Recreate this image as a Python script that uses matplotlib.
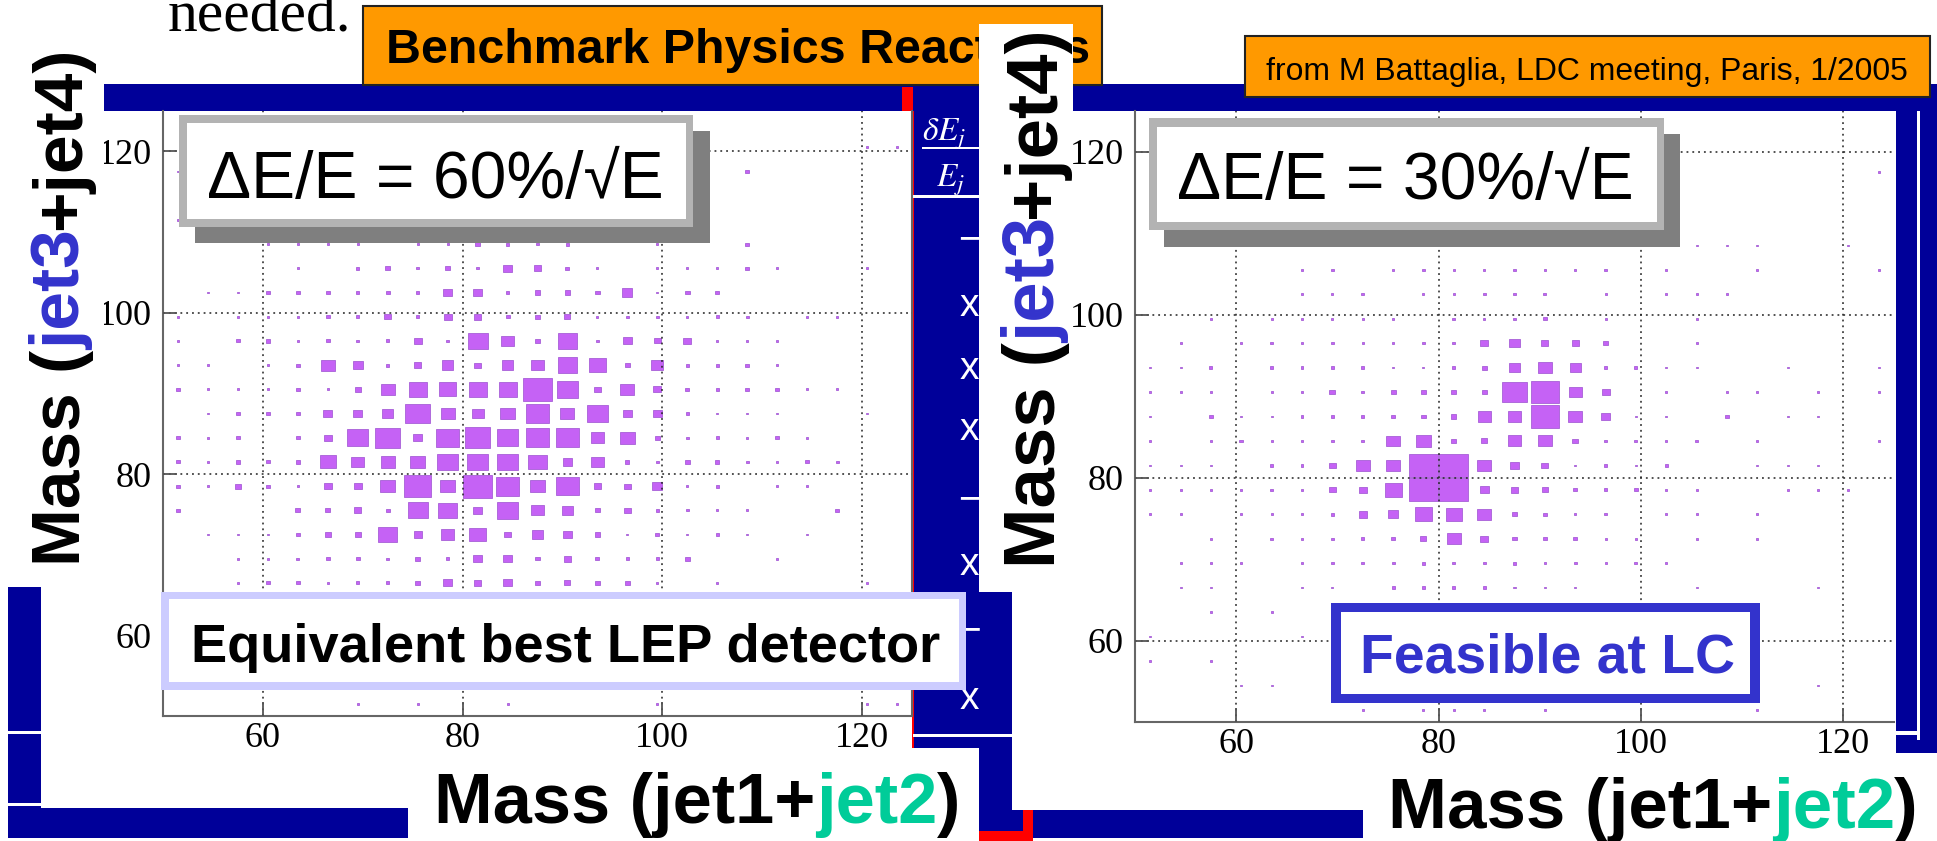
import numpy as np
import matplotlib
matplotlib.use('Agg')
import matplotlib.pyplot as plt
from matplotlib.patches import Rectangle
from matplotlib.collections import PatchCollection
from matplotlib.transforms import Affine2D

# Data

# 2D histograms, 3 GeV bins from 50 to 125 on both axes.
# each row = one Mass(jet3+jet4) bin (from 51.5 up to 123.5), columns = Mass(jet1+jet2) bins
bin_lo = 50
bin_w = 3
cmax = 200

lep_counts = [
    [0, 0, 0, 0, 0, 0, 1, 0, 1, 0, 0, 1, 0, 0, 0, 0, 1, 0, 0, 0, 0, 0, 0, 1, 1],
    [0, 0, 0, 0, 0, 0, 0, 0, 0, 0, 0, 0, 0, 0, 0, 0, 0, 0, 0, 0, 0, 0, 0, 0, 0],
    [0, 0, 0, 0, 0, 0, 0, 0, 0, 0, 0, 0, 0, 0, 0, 0, 0, 0, 0, 0, 0, 0, 0, 0, 0],
    [0, 0, 0, 0, 0, 0, 0, 0, 0, 0, 0, 0, 0, 0, 0, 0, 0, 0, 0, 0, 0, 0, 0, 0, 0],
    [0, 0, 0, 0, 0, 0, 0, 0, 0, 0, 0, 0, 0, 0, 0, 0, 0, 0, 0, 0, 0, 0, 0, 0, 0],
    [0, 0, 1, 3, 3, 1, 3, 3, 7, 19, 11, 19, 4, 9, 7, 7, 1, 0, 1, 0, 0, 0, 0, 1, 0],
    [0, 0, 1, 1, 2, 3, 4, 2, 6, 3, 17, 19, 4, 14, 4, 3, 3, 5, 0, 0, 1, 0, 0, 0, 0],
    [0, 1, 1, 1, 5, 9, 9, 85, 16, 45, 72, 10, 26, 20, 7, 1, 4, 1, 3, 1, 0, 1, 0, 0, 0],
    [3, 0, 0, 0, 6, 6, 12, 4, 100, 83, 20, 110, 38, 30, 6, 10, 3, 2, 1, 1, 0, 0, 3, 0, 0],
    [3, 2, 10, 3, 1, 14, 14, 52, 185, 60, 200, 138, 60, 128, 14, 10, 25, 1, 3, 0, 1, 1, 0, 0, 0],
    [3, 1, 5, 3, 5, 63, 42, 48, 55, 104, 104, 104, 80, 24, 40, 4, 2, 7, 4, 2, 1, 3, 2, 0, 0],
    [3, 1, 3, 0, 4, 15, 110, 148, 20, 125, 158, 115, 133, 133, 42, 55, 5, 2, 3, 1, 3, 1, 0, 0, 0],
    [0, 1, 3, 3, 3, 20, 20, 33, 148, 49, 35, 49, 125, 48, 105, 20, 20, 3, 1, 1, 1, 0, 0, 1, 0],
    [3, 1, 1, 1, 3, 1, 8, 50, 80, 77, 80, 80, 195, 103, 10, 47, 15, 4, 3, 3, 3, 1, 1, 0, 0],
    [1, 1, 0, 1, 3, 45, 24, 3, 12, 33, 10, 33, 42, 90, 72, 5, 35, 3, 3, 3, 1, 0, 0, 0, 0],
    [1, 0, 3, 4, 1, 3, 2, 3, 17, 2, 100, 40, 6, 88, 2, 19, 10, 15, 1, 1, 1, 0, 0, 0, 0],
    [1, 0, 1, 1, 1, 3, 3, 11, 3, 15, 15, 4, 5, 9, 1, 2, 2, 1, 3, 2, 0, 1, 1, 0, 0],
    [0, 1, 1, 3, 3, 3, 3, 4, 3, 21, 21, 2, 8, 8, 5, 25, 1, 5, 4, 0, 0, 0, 0, 0, 0],
    [0, 0, 0, 0, 1, 0, 3, 6, 2, 6, 2, 21, 12, 4, 1, 0, 1, 1, 1, 4, 1, 0, 0, 1, 0],
    [0, 0, 0, 1, 1, 1, 1, 0, 1, 1, 5, 3, 2, 3, 0, 0, 1, 0, 0, 3, 0, 0, 0, 0, 0],
    [1, 0, 0, 0, 0, 0, 0, 0, 0, 0, 0, 0, 0, 0, 0, 0, 0, 0, 0, 0, 0, 0, 0, 0, 0],
    [0, 0, 0, 0, 0, 0, 0, 0, 0, 0, 0, 0, 0, 0, 0, 0, 0, 0, 0, 0, 0, 0, 0, 0, 0],
    [1, 0, 0, 0, 0, 0, 0, 0, 0, 0, 0, 0, 0, 0, 0, 0, 0, 0, 0, 3, 0, 0, 0, 0, 0],
    [0, 0, 0, 0, 0, 0, 0, 0, 0, 0, 0, 0, 0, 0, 0, 0, 0, 0, 0, 0, 0, 0, 0, 1, 2],
    [0, 0, 0, 0, 0, 0, 0, 0, 0, 0, 0, 0, 0, 0, 0, 0, 0, 0, 0, 0, 0, 0, 0, 0, 0],
]

lc_counts = [
    [0, 0, 0, 0, 0, 0, 0, 1, 0, 1, 1, 1, 0, 1, 0, 0, 0, 0, 0, 0, 1, 0, 0, 0, 0],
    [0, 0, 0, 1, 1, 0, 0, 0, 0, 0, 0, 0, 0, 0, 0, 0, 0, 0, 0, 0, 0, 0, 1, 0, 0],
    [1, 0, 1, 0, 0, 0, 0, 0, 0, 0, 0, 0, 0, 0, 0, 0, 0, 0, 0, 0, 0, 0, 0, 0, 0],
    [1, 0, 0, 0, 0, 1, 0, 0, 0, 0, 0, 0, 0, 0, 0, 0, 0, 0, 0, 0, 0, 0, 0, 0, 0],
    [0, 0, 1, 0, 1, 0, 0, 0, 0, 0, 0, 0, 0, 0, 0, 0, 0, 0, 0, 0, 0, 0, 0, 0, 0],
    [0, 1, 1, 0, 0, 1, 1, 0, 2, 2, 2, 2, 1, 1, 1, 0, 0, 0, 1, 0, 0, 0, 1, 0, 0],
    [0, 1, 1, 1, 0, 1, 2, 2, 2, 3, 2, 2, 3, 1, 2, 1, 2, 1, 0, 0, 0, 0, 0, 0, 0],
    [0, 0, 1, 0, 2, 1, 2, 3, 3, 9, 48, 14, 4, 3, 3, 1, 1, 0, 1, 0, 1, 0, 0, 0, 0],
    [1, 1, 0, 1, 1, 2, 3, 16, 23, 70, 60, 48, 7, 3, 1, 2, 0, 1, 1, 0, 1, 0, 0, 0, 0],
    [1, 1, 1, 1, 2, 2, 10, 16, 70, 200, 200, 19, 14, 10, 3, 3, 3, 1, 1, 0, 0, 1, 1, 1, 0],
    [1, 1, 1, 0, 2, 2, 10, 46, 50, 200, 200, 44, 20, 11, 1, 3, 1, 2, 0, 0, 1, 1, 1, 0, 0],
    [1, 0, 1, 3, 1, 2, 2, 2, 42, 58, 6, 9, 44, 45, 8, 2, 2, 1, 2, 0, 1, 0, 0, 0, 1],
    [1, 0, 3, 1, 1, 2, 3, 3, 3, 5, 6, 41, 39, 185, 45, 19, 1, 1, 0, 3, 0, 1, 1, 0, 0],
    [1, 1, 1, 0, 1, 1, 8, 3, 6, 7, 6, 6, 140, 185, 39, 15, 0, 1, 0, 1, 1, 0, 1, 0, 1],
    [1, 1, 2, 0, 2, 2, 2, 2, 1, 1, 2, 6, 28, 45, 28, 2, 2, 1, 1, 0, 0, 1, 0, 0, 1],
    [0, 1, 0, 1, 2, 2, 2, 1, 1, 2, 2, 16, 27, 11, 11, 6, 0, 0, 1, 0, 0, 0, 0, 0, 0],
    [0, 0, 1, 0, 1, 1, 1, 1, 1, 0, 2, 1, 1, 3, 0, 1, 0, 0, 1, 0, 0, 0, 0, 0, 0],
    [0, 0, 0, 0, 0, 1, 1, 2, 0, 1, 1, 2, 2, 2, 0, 1, 0, 1, 1, 1, 0, 0, 0, 0, 0],
    [0, 0, 0, 0, 0, 1, 2, 0, 1, 2, 1, 1, 2, 1, 1, 2, 0, 1, 0, 0, 1, 0, 0, 0, 1],
    [0, 0, 0, 0, 0, 1, 0, 0, 0, 0, 0, 0, 0, 0, 0, 0, 0, 1, 1, 1, 1, 0, 0, 1, 0],
    [0, 0, 0, 0, 0, 0, 0, 0, 0, 0, 0, 0, 0, 0, 0, 0, 0, 0, 0, 0, 0, 0, 0, 0, 0],
    [0, 0, 0, 0, 0, 0, 0, 0, 0, 0, 0, 0, 0, 0, 0, 0, 0, 0, 0, 0, 0, 0, 0, 0, 0],
    [0, 0, 0, 0, 0, 0, 0, 0, 0, 0, 0, 0, 0, 0, 0, 0, 0, 0, 0, 0, 0, 0, 0, 0, 1],
    [0, 0, 0, 0, 0, 0, 0, 0, 0, 0, 0, 0, 0, 0, 0, 0, 0, 0, 0, 0, 0, 0, 0, 0, 0],
    [0, 0, 0, 0, 0, 0, 0, 0, 0, 0, 0, 0, 0, 0, 0, 0, 0, 0, 0, 0, 0, 0, 0, 0, 0],
]

axis_ticks = [60, 80, 100, 120]
title = 'Benchmark Physics Reactions'
credit = 'from M Battaglia, LDC meeting, Paris, 1/2005'
res_labels = ['ΔE/E = 60%/√E', 'ΔE/E = 30%/√E']
box_labels = ['Equivalent best LEP detector', 'Feasible at LC']
ylab_pieces = ['Mass (', 'jet3', '+jet4)']
xlab_pieces = ['Mass (jet1+', 'jet2', ')']
panel_marks = ['−', 'x', 'x', 'x', '−', 'x', '−', 'x']

# Colours
navy = '#000099'
orange = '#ff9900'
purple = '#c562f5'
blue_txt = '#3333cc'
green_txt = '#00cc99'


# Figure in pixel layout (top-left origin)
W, H = 1937, 841
fig = plt.figure(figsize=(W / 100, H / 100), dpi=100)
fig.patch.set_facecolor('white')
renderer = fig.canvas.get_renderer()
px = Affine2D().scale(1 / W, -1 / H).translate(0, 1) + fig.transFigure


def box(x0, y0, x1, y1, fc, z, ec='none', lw=0):
    fig.add_artist(Rectangle((x0, y0), x1 - x0, y1 - y0, transform=px,
                             facecolor=fc, edgecolor=ec, linewidth=lw, zorder=z))


def text_w(s, size, **kw):
    t = fig.text(0, 0, s, fontsize=size, **kw)
    w = t.get_window_extent(renderer).width
    t.remove()
    return w


# write pieces of text in a row (or a column going up) stretched to a given length
def put_pieces(x, y, pieces, colors, length, vertical=False, z=6, **kw):
    ws = [text_w(s, 10, **kw) for s in pieces]
    k = length / sum(ws)
    pos = 0
    for s, c, w in zip(pieces, colors, ws):
        if vertical:
            fig.text(x, y - pos, s, color=c, fontsize=10 * k, rotation=90,
                     rotation_mode='anchor', ha='left', va='baseline',
                     transform=px, zorder=z, **kw)
        else:
            fig.text(x + pos, y, s, color=c, fontsize=10 * k, ha='left',
                     va='baseline', transform=px, zorder=z, **kw)
        pos += w * k


sans = ['Liberation Sans', 'DejaVu Sans']

# slide background pieces
box(104, 84, 1937, 111, navy, 1)             # top bar
box(902, 87, 913, 111, 'red', 1.1)
box(912, 84, 1012, 812, navy, 1)             # middle panel
box(912, 111, 914, 750, 'red', 1.1)
box(8, 587, 41, 838, navy, 1)                # bottom-left block
box(8, 808, 408, 838, navy, 1)
box(8, 731, 41, 734, 'white', 1.2)
box(8, 803, 408, 806, 'white', 1.2)
box(979, 810, 1363, 838, navy, 1)            # bottom bar
box(1023, 810, 1033, 841, 'red', 1.1)
box(979, 831, 1033, 841, 'red', 1.1)
box(1896, 84, 1937, 753, navy, 1)            # right strip
box(1917, 111, 1920, 740, 'white', 1.2)
box(1896, 731, 1920, 735, 'white', 1.2)
box(913, 195, 1012, 198, 'white', 1.2)
box(913, 734, 1012, 737, 'white', 1.2)
box(922, 147, 979, 149, 'white', 1.2)
fig.text(922, 141, r'$\delta E_j$', color='white', fontsize=24, transform=px,
         ha='left', va='baseline', zorder=1.3, math_fontfamily='stix')
fig.text(936, 186, r'$E_j$', color='white', fontsize=24, transform=px,
         ha='left', va='baseline', zorder=1.3, math_fontfamily='stix')
for m, yy in zip(panel_marks, [240, 306, 369, 430, 500, 565, 631, 699]):
    fig.text(969, yy, m, color='white', fontsize=28, family=sans, ha='center',
             va='center', transform=px, zorder=1.3)

# cropped line of text at the very top
put_pieces(168, 32, ['needed.'], ['black'], 183, family='Liberation Serif', z=1.5)

# orange boxes
box(363, 6, 1102, 85, orange, 4, ec='#222222', lw=1.5)
put_pieces(386, 63, [title], ['black'], 704, z=4.1, family=sans, weight='bold')
box(1245, 36, 1930, 97, orange, 4, ec='#222222', lw=1.5)
put_pieces(1266, 80, [credit], ['black'], 642, z=4.1, family=sans)


# the two histograms
def hist_panel(rect, counts):
    ax = fig.add_axes(rect)
    ax.set_zorder(3)
    ax.set_facecolor('white')
    cols = bin_lo + bin_w / 2 + bin_w * np.arange(len(counts[0]))
    rows = bin_lo + bin_w / 2 + bin_w * np.arange(len(counts))
    squares = []
    for j, row in enumerate(counts):
        for i, c in enumerate(row):
            if c > 0:
                s = bin_w * 0.95 * np.sqrt(c / cmax)
                squares.append(Rectangle((cols[i] - s / 2, rows[j] - s / 2), s, s))
    ax.add_collection(PatchCollection(squares, facecolor=purple, edgecolor='#9b4fd0',
                                      linewidth=0.5, zorder=1))
    ax.set_xlim(50, 125)
    ax.set_ylim(50, 125)
    ax.set_xticks(axis_ticks)
    ax.set_yticks(axis_ticks)
    ax.set_axisbelow(False)
    ax.grid(True, color='#222222', linestyle=(0, (1.2, 2.6)), linewidth=1.1)
    ax.tick_params(direction='in', length=10, width=1.3, color='#555555',
                   labelsize=26, labelfontfamily='Liberation Serif')
    ax.tick_params(axis='y', pad=8)
    ax.tick_params(axis='x', pad=4)
    for side in ['left', 'bottom', 'right']:
        ax.spines[side].set_color('#666666')
        ax.spines[side].set_linewidth(1.5)
    ax.spines['top'].set_visible(False)
    return ax


ax1 = hist_panel([163 / W, 1 - 716 / H, (912 - 163) / W, (716 - 111) / H], lep_counts)
ax2 = hist_panel([1135 / W, 1 - 722 / H, (1894 - 1135) / W, (722 - 111) / H], lc_counts)
ax2.spines['right'].set_visible(False)

# axis titles on white boxes
ycolors = ['black', blue_txt, 'black']
xcolors = ['black', green_txt, 'black']
box(0, 0, 104, 587, 'white', 5)
put_pieces(80, 566, ylab_pieces, ycolors, 520, vertical=True, family=sans, weight='bold')
box(979, 24, 1073, 592, 'white', 5)
put_pieces(1055, 568, ylab_pieces, ycolors, 543, vertical=True, family=sans, weight='bold')
box(408, 748, 979, 841, 'white', 5)
put_pieces(434, 823, xlab_pieces, xcolors, 526, family=sans, weight='bold')
box(1363, 753, 1937, 841, 'white', 5)
put_pieces(1388, 828, xlab_pieces, xcolors, 530, family=sans, weight='bold')

# resolution boxes with shadow
box(195, 131, 710, 243, '#7f7f7f', 5)
box(179, 115, 693, 227, '#b3b3b3', 5.1)
box(187, 123, 686, 219, 'white', 5.2)
put_pieces(207, 198, [res_labels[0]], ['black'], 456, family=sans)
box(1164, 134, 1680, 247, '#7f7f7f', 5)
box(1149, 118, 1664, 230, '#b3b3b3', 5.1)
box(1157, 127, 1657, 222, 'white', 5.2)
put_pieces(1177, 199, [res_labels[1]], ['black'], 456, family=sans)

# detector boxes
box(161, 592, 966, 690, '#ccccff', 5)
box(169, 599, 959, 682, 'white', 5.1)
put_pieces(191, 662, [box_labels[0]], ['black'], 750, family=sans, weight='bold')
box(1331, 603, 1760, 703, blue_txt, 5)
box(1341, 612, 1750, 694, 'white', 5.1)
put_pieces(1360, 673, [box_labels[1]], [blue_txt], 374, family=sans, weight='bold')

plt.savefig('out.png', dpi=100)
